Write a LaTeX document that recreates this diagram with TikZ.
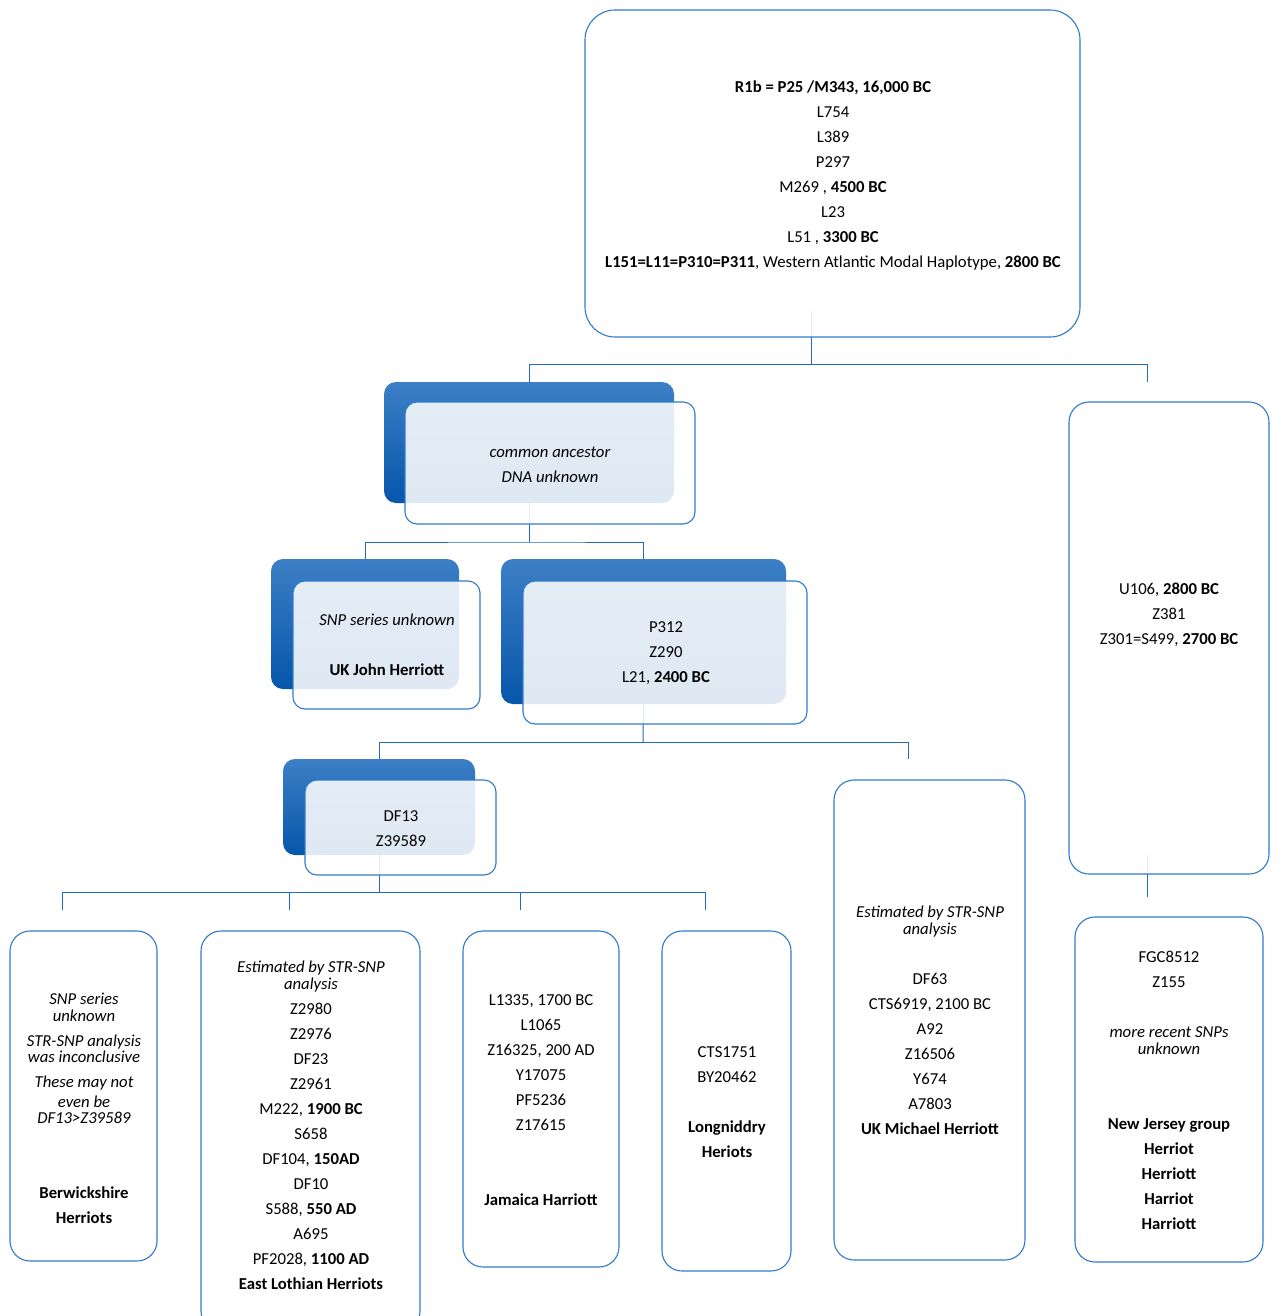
\documentclass[tikz,border=0pt]{standalone}
\usepackage{fontspec}
\setmainfont{Carlito}
\definecolor{lineblue}{RGB}{36,106,188}
\definecolor{boxblue}{RGB}{48,122,204}
\definecolor{bluetop}{RGB}{60,127,197}
\definecolor{bluebot}{RGB}{6,86,170}
\begin{document}
\begin{tikzpicture}[x=1pt,y=-1pt,
  conn/.style={draw=lineblue, line width=1pt},
  backbox/.style={rounded corners=12pt, top color=bluetop, bottom color=bluebot, draw=none, anchor=north west, inner sep=0pt, outer sep=0pt},
  frontbox/.style={rounded corners=12pt, draw=boxblue, line width=1.1pt, fill=white, fill opacity=0.87, anchor=north west, inner sep=0pt, outer sep=0pt},
  tallbox/.style={rounded corners=20pt, draw=boxblue, line width=1.1pt, fill=white, fill opacity=0.87, anchor=north west, inner sep=0pt, outer sep=0pt},
  txt/.style={align=center, inner sep=0pt, font=\fontsize{16.7}{25}\selectfont, text=black}]
\useasboundingbox (0,0) rectangle (1283,1316);
\fill[white] (0,0) rectangle (1283,1316);

% back boxes (opaque, blue)
\node[backbox, minimum width=290pt, minimum height=121pt] (caB) at (384,382) {};
\node[backbox, minimum width=188pt, minimum height=130pt] (snpB) at (271,559) {};
\node[backbox, minimum width=285pt, minimum height=145pt] (p312B) at (501,559) {};
\node[backbox, minimum width=192pt, minimum height=96pt] (df13B) at (283,759) {};

% connector coordinates
\coordinate (r0) at (811,311);
\coordinate (j0) at (811,364);
\coordinate (j0r) at (1147,364);
\coordinate (e0r) at (1147,382);
\coordinate (j1) at (529,542);
\coordinate (j2) at (643,742);
\coordinate (j2r) at (908,742);
\coordinate (e2r) at (908,759);
\coordinate (j3) at (379,892);
\coordinate (d1) at (62,910);
\coordinate (d2) at (289,910);
\coordinate (d3) at (520,910);
\coordinate (d4) at (705,910);
\coordinate (u0) at (1147,855);
\coordinate (u1) at (1147,897);

% connectors
\draw[conn] (r0) -- (j0);
\draw[conn] (caB.north) |- (j0r) -- (e0r);
\draw[conn] (caB.south) -- (j1);
\draw[conn] (snpB.north) |- (j1) -| (p312B.north);
\draw[conn] (p312B.south) -- (j2);
\draw[conn] (df13B.north) |- (j2r) -- (e2r);
\draw[conn] (df13B.south) -- (j3);
\draw[conn] (d1) |- (j3) -| (d4);
\draw[conn] (d2) -- (d2 |- j3);
\draw[conn] (d3) -- (d3 |- j3);
\draw[conn] (u0) -- (u1);

% front / white boxes
\node[tallbox, rounded corners=30pt, minimum width=495pt, minimum height=327pt] (top) at (585,10) {};
\node[frontbox, minimum width=290pt, minimum height=122pt] (caF) at (405,402) {};
\node[frontbox, minimum width=187pt, minimum height=128pt] (snpF) at (293,581) {};
\node[frontbox, minimum width=284pt, minimum height=143pt] (p312F) at (523,581) {};
\node[frontbox, minimum width=191pt, minimum height=95pt] (df13F) at (305,780) {};
\node[tallbox, minimum width=200pt, minimum height=472pt] (u106) at (1069,402) {};
\node[tallbox, minimum width=147pt, minimum height=330pt] (berw) at (10,931) {};
\node[tallbox, minimum width=219pt, minimum height=400pt] (elot) at (201,931) {};
\node[tallbox, minimum width=156pt, minimum height=336pt] (jam) at (463,931) {};
\node[tallbox, minimum width=129pt, minimum height=340pt] (long) at (662,931) {};
\node[tallbox, minimum width=191pt, minimum height=480pt] (mich) at (834,780) {};
\node[tallbox, minimum width=188pt, minimum height=345pt] (nj) at (1075,917) {};

% texts
\node[txt] (ttop) at (833,175) {\textbf{R1b = P25 /M343, 16,000 BC}\\L754\\L389\\P297\\M269 , \textbf{4500 BC}\\L23\\L51 , \textbf{3300 BC}\\\textbf{L151=L11=P310=P311}, Western Atlantic Modal Haplotype, \textbf{2800 BC}};
\node[txt] (tca) at (550,465) {\textit{common ancestor}\\\textit{DNA unknown}};
\node[txt] (tsnp) at (387,645) {\textit{SNP series unknown}\\[25pt]\textbf{UK John Herriott}};
\node[txt] (tp312) at (666,653) {P312\\Z290\\L21, \textbf{2400 BC}};
\node[txt] (tdf13) at (401,828.5) {DF13\\Z39589};
\node[txt] (tu106) at (1169,615) {U106, \textbf{2800 BC}\\Z381\\Z301=S499, \textbf{2700 BC}};
\node[txt] (tberw) at (84,1108.5) {\textit{SNP series}\\[-8pt]\textit{unknown}\\\textit{STR-SNP analysis}\\[-9pt]\textit{was inconclusive}\\\textit{These may not}\\[-5pt]\textit{even be}\\[-9pt]\textit{DF13>Z39589}\\[50pt]\textbf{Berwickshire}\\\textbf{Herriots}};
\node[txt] (telot) at (311,1125.5) {\textit{Estimated by STR-SNP}\\[-8pt]\textit{analysis}\\Z2980\\Z2976\\DF23\\Z2961\\M222, \textbf{1900 BC}\\S658\\DF104, \textbf{150AD}\\DF10\\S588, \textbf{550 AD}\\A695\\PF2028, \textbf{1100 AD}\\\textbf{East Lothian Herriots}};
\node[txt] (tjam) at (541,1100) {L1335, 1700 BC\\L1065\\Z16325, 200 AD\\Y17075\\PF5236\\Z17615\\[50pt]\textbf{Jamaica Harriott}};
\node[txt] (tlong) at (727,1102) {CTS1751\\BY20462\\[25pt]\textbf{Longniddry}\\\textbf{Heriots}};
\node[txt] (tmich) at (930,1020.5) {\textit{Estimated by STR-SNP}\\[-8pt]\textit{analysis}\\[25pt]DF63\\CTS6919, 2100 BC\\A92\\Z16506\\Y674\\A7803\\\textbf{UK Michael Herriott}};
\node[txt] (tnj) at (1169,1090.5) {FGC8512\\Z155\\[25pt]\textit{more recent SNPs}\\[-8pt]\textit{unknown}\\[50pt]\textbf{New Jersey group}\\\textbf{Herriot}\\\textbf{Herriott}\\\textbf{Harriot}\\\textbf{Harriott}};
\end{tikzpicture}
\end{document}
